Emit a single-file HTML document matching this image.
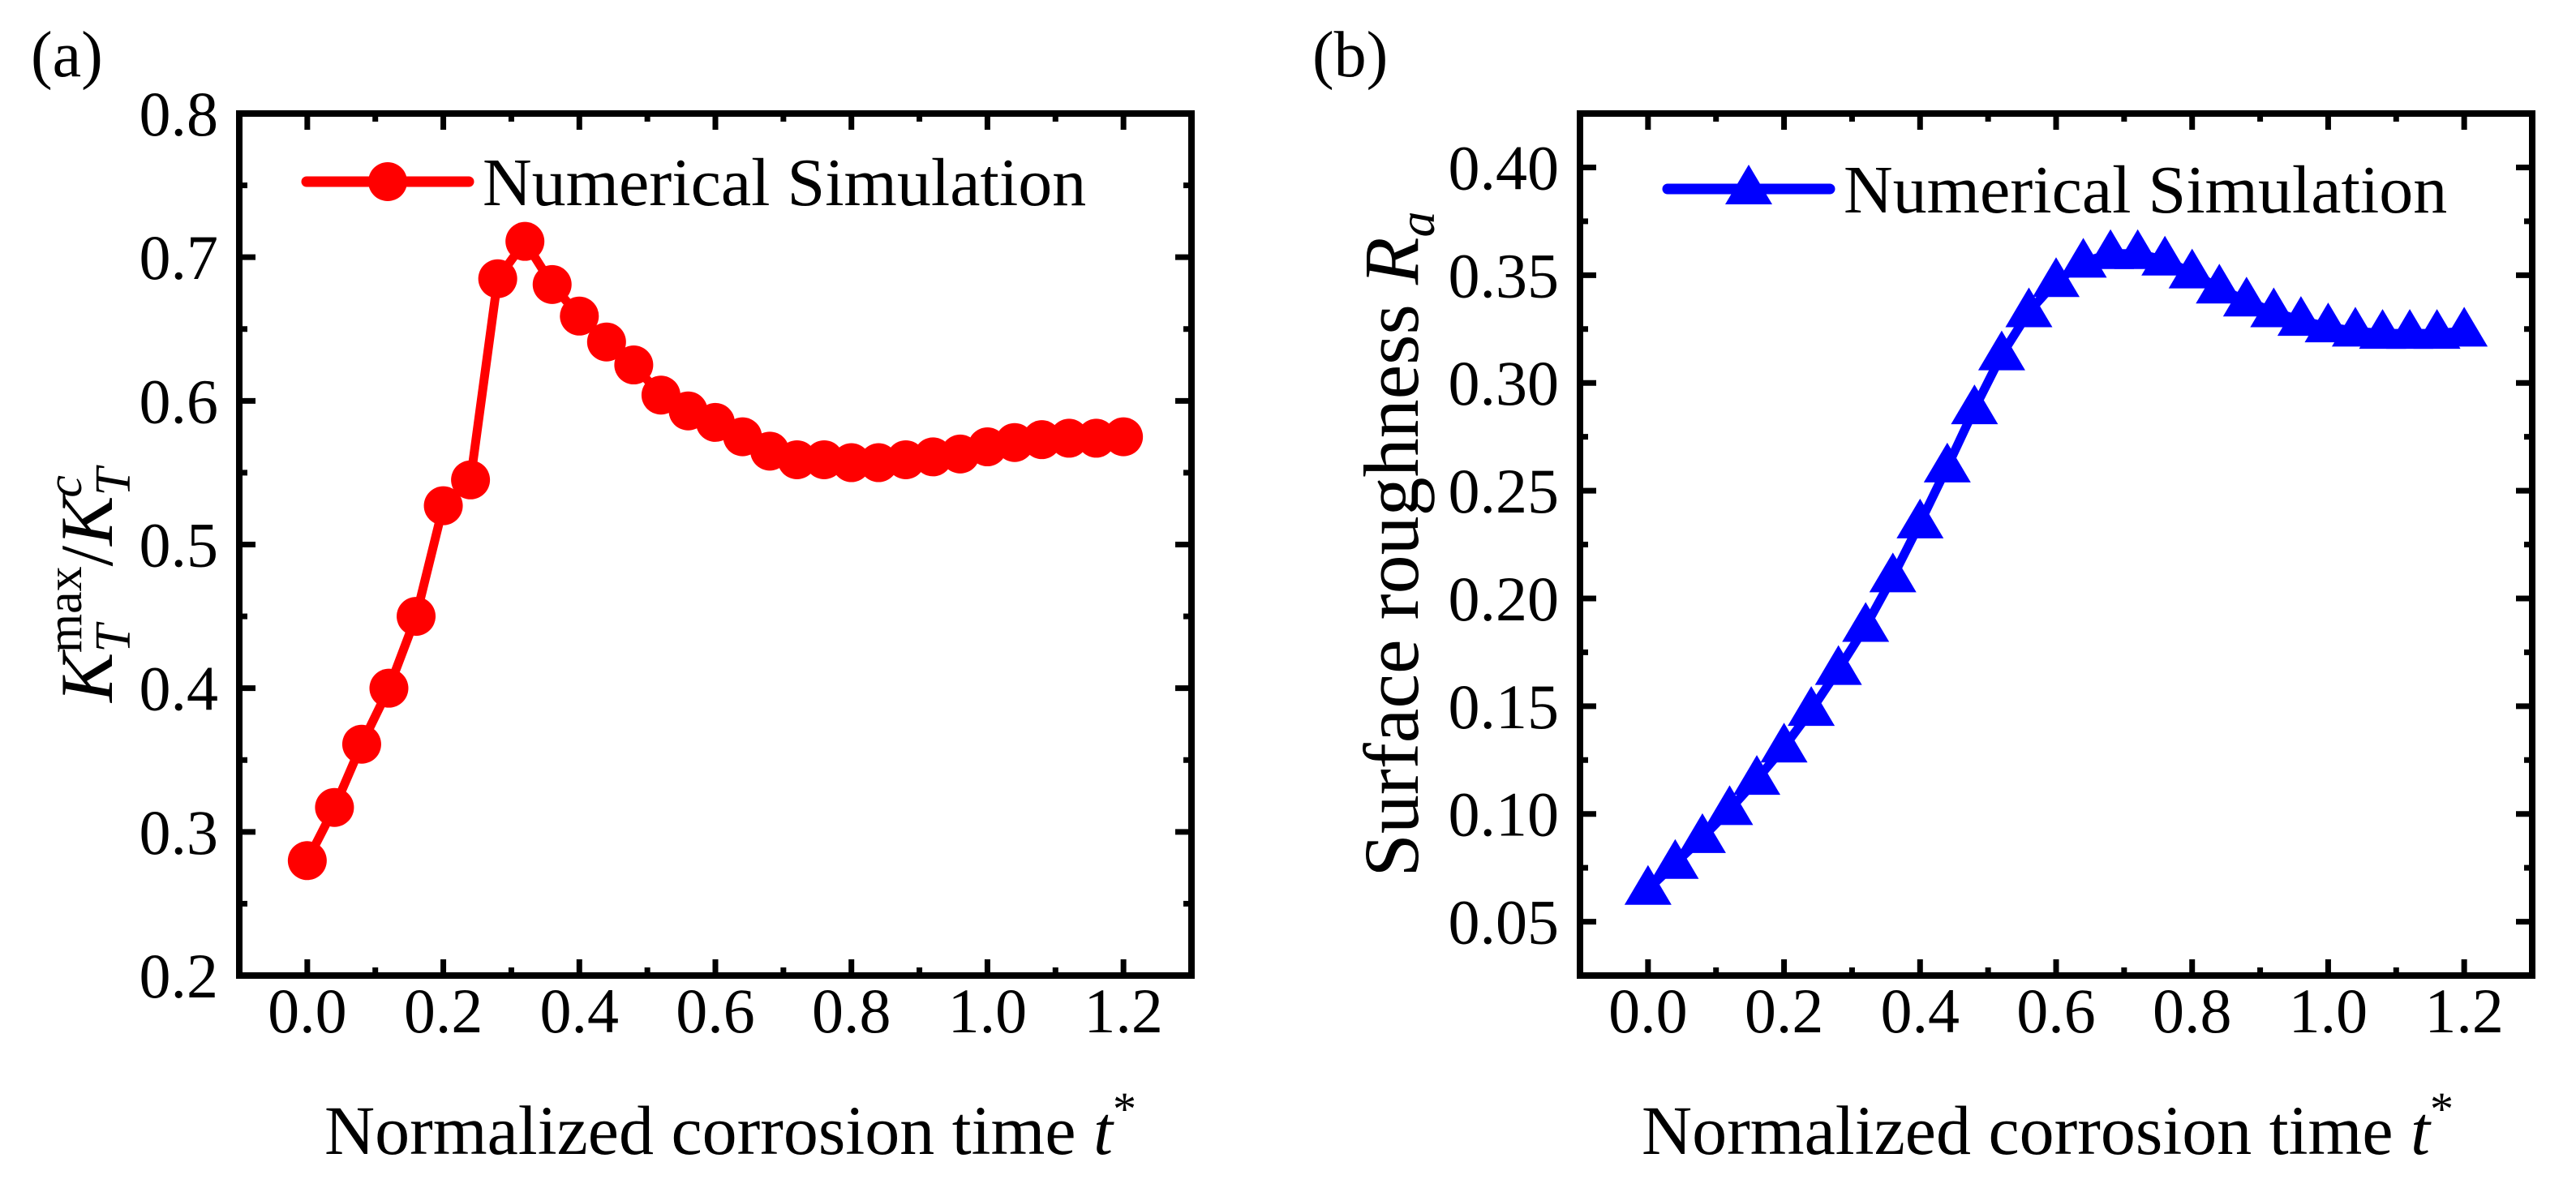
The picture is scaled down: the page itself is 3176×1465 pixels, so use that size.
<!DOCTYPE html>
<html><head><meta charset="utf-8">
<style>
html,body{margin:0;padding:0;background:#fff;}
svg{display:block;font-family:"Liberation Serif",serif;}
</style></head>
<body>
<svg id="fig" width="3176" height="1465" viewBox="0 0 3176 1465" xmlns="http://www.w3.org/2000/svg">
<rect x="0" y="0" width="3176" height="1465" fill="#fff"/>
<text x="38" y="94" font-size="80">(a)</text>
<text x="1618" y="94" font-size="80">(b)</text>
<text transform="translate(138,866) rotate(-90)" font-size="92"><tspan font-style="italic">K</tspan><tspan font-size="62" font-style="italic" dy="22">T</tspan><tspan font-size="62" dx="-35" dy="-60">max</tspan><tspan dy="38">/</tspan><tspan font-style="italic">K</tspan><tspan font-size="62" font-style="italic" dy="22">T</tspan><tspan font-size="62" font-style="italic" dx="-31" dy="-60">c</tspan></text>
<text transform="translate(1748,671) rotate(-90)" text-anchor="middle" font-size="96">Surface roughness <tspan font-style="italic">R</tspan><tspan font-style="italic" font-size="64" dy="20">a</tspan></text>
<text x="400" y="1423" font-size="86">Normalized corrosion time <tspan font-style="italic">t</tspan><tspan font-size="58" dy="-36">*</tspan></text>
<text x="2024" y="1423" font-size="86">Normalized corrosion time <tspan font-style="italic">t</tspan><tspan font-size="58" dy="-36">*</tspan></text>
<g id="pa"></g>
<g id="pb"></g>
</svg>
<script>
const NS="http://www.w3.org/2000/svg";
const xTicks=[0.0,0.2,0.4,0.6,0.8,1.0,1.2];
const xTickLabels=["0.0","0.2","0.4","0.6","0.8","1.0","1.2"];
const yTicksA=[0.2,0.3,0.4,0.5,0.6,0.7,0.8];
const yTickLabelsA=["0.2","0.3","0.4","0.5","0.6","0.7","0.8"];
const yTicksB=[0.05,0.10,0.15,0.20,0.25,0.30,0.35,0.40];
const yTickLabelsB=["0.05","0.10","0.15","0.20","0.25","0.30","0.35","0.40"];
const timeA=[0,0.04,0.08,0.12,0.16,0.2,0.24,0.28,0.32,0.36,0.4,0.44,0.48,0.52,0.56,0.6,0.64,0.68,0.72,0.76,0.8,0.84,0.88,0.92,0.96,1.0,1.04,1.08,1.12,1.16,1.2];
const kRatio=[0.28,0.317,0.361,0.40,0.45,0.527,0.545,0.685,0.711,0.681,0.659,0.641,0.625,0.604,0.593,0.585,0.575,0.565,0.559,0.559,0.557,0.557,0.559,0.561,0.563,0.568,0.571,0.573,0.574,0.574,0.575];
const timeB=[0,0.04,0.08,0.12,0.16,0.2,0.24,0.28,0.32,0.36,0.4,0.44,0.48,0.52,0.56,0.6,0.64,0.68,0.72,0.76,0.8,0.84,0.88,0.92,0.96,1.0,1.04,1.08,1.12,1.16,1.2];
const roughness=[0.065,0.077,0.089,0.102,0.116,0.131,0.148,0.167,0.187,0.210,0.235,0.261,0.288,0.313,0.333,0.347,0.356,0.360,0.360,0.357,0.351,0.344,0.338,0.333,0.329,0.326,0.324,0.323,0.323,0.323,0.324];

function mk(parent,tag,attrs){const e=document.createElementNS(NS,tag);for(const k in attrs)e.setAttribute(k,attrs[k]);parent.appendChild(e);return e;}

function chart(g,left,top,w,h,xmin,xmax,ymin,ymax,yt,ytl,xs,ys,color,marker,legX,legY){
  const X=v=>left+(v-xmin)/(xmax-xmin)*w;
  const Y=v=>top+h-(v-ymin)/(ymax-ymin)*h;
  for(let i=0;i<xTicks.length;i++){
    const x=X(xTicks[i]);
    const t1=mk(g,'line',{x1:x,y1:top+h,x2:x,y2:top+h-20,stroke:'#000','stroke-width':7});
    
    
    const t2=mk(g,'line',{x1:x,y1:top,x2:x,y2:top+20,stroke:'#000','stroke-width':7});
    
    
    const lb=mk(g,'text',{x:x,y:top+h+70,'text-anchor':'middle','font-size':78});
    lb.textContent=xTickLabels[i];
    
    
    const mv=xTicks[i]+0.1;
    if(mv<xmax){
      const mx=X(mv);
      const m1=mk(g,'line',{x1:mx,y1:top+h,x2:mx,y2:top+h-10,stroke:'#000','stroke-width':7});
      
      
      const m2=mk(g,'line',{x1:mx,y1:top,x2:mx,y2:top+10,stroke:'#000','stroke-width':7});
      
      
    }
  }
  const step=yt[1]-yt[0];
  for(let i=0;i<yt.length;i++){
    const y=Y(yt[i]);
    const a=mk(g,'line',{x1:left,y1:y,x2:left+20,y2:y,stroke:'#000','stroke-width':7});
    
    
    const b=mk(g,'line',{x1:left+w,y1:y,x2:left+w-20,y2:y,stroke:'#000','stroke-width':7});
    
    
    const lb=mk(g,'text',{x:left-26,y:y+27,'text-anchor':'end','font-size':78});
    lb.textContent=ytl[i];
    
    
    for(const mv of [yt[i]-step/2,yt[i]+step/2]){
      if(mv>ymin && mv<ymax && (i===0 || mv>yt[i])){
        const my=Y(mv);
        const c=mk(g,'line',{x1:left,y1:my,x2:left+10,y2:my,stroke:'#000','stroke-width':7});
        
        
        const d=mk(g,'line',{x1:left+w,y1:my,x2:left+w-10,y2:my,stroke:'#000','stroke-width':7});
        
        
      }
    }
  }
  let d='';
  for(let i=0;i<xs.length;i++) d+=(i?'L':'M')+X(xs[i]).toFixed(1)+' '+Y(ys[i]).toFixed(1);
  const p=mk(g,'path',{d:d,fill:'none',stroke:color,'stroke-width':11,'stroke-linejoin':'round'});
  
  
  function drawMarker(cx,cy){
    if(marker==='circle') return mk(g,'circle',{cx:cx,cy:cy,r:24,fill:color});
    return mk(g,'polygon',{points:`${cx},${cy-30} ${cx-29},${cy+19} ${cx+29},${cy+19}`,fill:color});
  }
  for(let i=0;i<xs.length;i++){
    const m=drawMarker(X(xs[i]),Y(ys[i]));
    
    
  }
  const ll=mk(g,'line',{x1:legX,y1:legY,x2:legX+200,y2:legY,stroke:color,'stroke-width':13,'stroke-linecap':'round'});
  
  
  const lm=drawMarker(legX+100,legY);
  
  
  const lt=mk(g,'text',{x:legX+217,y:legY+29,'font-size':84});
  lt.textContent='Numerical Simulation';
  
  
  const fr=mk(g,'rect',{x:left,y:top,width:w,height:h,fill:'none',stroke:'#000','stroke-width':8});
  
  
}
chart(document.getElementById('pa'),295,140,1174,1063,-0.1,1.3,0.2,0.8,yTicksA,yTickLabelsA,timeA,kRatio,'#ff0000','circle',378,224);
chart(document.getElementById('pb'),1948,140,1174,1063,-0.1,1.3,0.025,0.425,yTicksB,yTickLabelsB,timeB,roughness,'#0000ff','triangle',2056,233);
</script>
</body></html>
